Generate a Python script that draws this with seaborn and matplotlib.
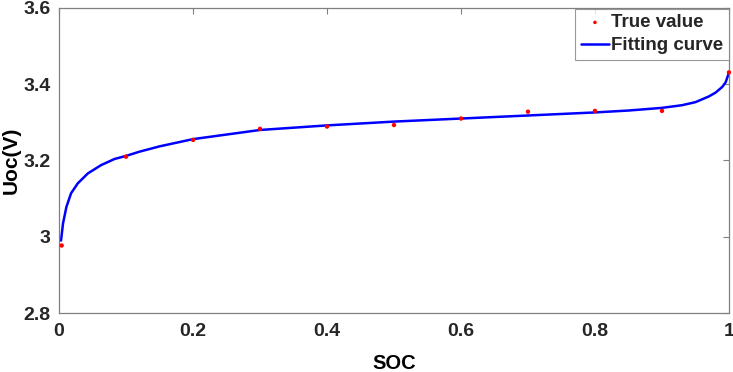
import pandas as pd
import matplotlib
matplotlib.use("Agg")
import matplotlib.pyplot as plt
import seaborn as sns

soc_true = [0.004, 0.1, 0.2, 0.3, 0.4, 0.5, 0.6, 0.7, 0.8, 0.9, 1.0]
uoc_true = [2.977, 3.210, 3.254, 3.283, 3.289, 3.293, 3.310, 3.328, 3.330, 3.330, 3.431]

# fitted curve
soc_fit = [0.003, 0.006, 0.011, 0.018, 0.028, 0.043, 0.063, 0.083, 0.10, 0.12, 0.15,
           0.2, 0.3, 0.4, 0.5, 0.6, 0.7, 0.8, 0.85, 0.9, 0.93, 0.95, 0.97, 0.98,
           0.99, 0.995, 1.0]
uoc_fit = [2.99, 3.035, 3.078, 3.114, 3.140, 3.166, 3.188, 3.204, 3.212, 3.223, 3.237,
           3.256, 3.280, 3.292, 3.302, 3.310, 3.318, 3.326, 3.331, 3.338, 3.345, 3.353,
           3.368, 3.378, 3.393, 3.405, 3.43]

x_ticks = [0, 0.2, 0.4, 0.6, 0.8, 1]
x_labels = ["0", "0.2", "0.4", "0.6", "0.8", "1"]
y_ticks = [2.8, 3.0, 3.2, 3.4, 3.6]
y_labels = ["2.8", "3", "3.2", "3.4", "3.6"]

true_df = pd.DataFrame({"SOC": soc_true, "Uoc": uoc_true})
fit_df = pd.DataFrame({"SOC": soc_fit, "Uoc": uoc_fit})

sns.set_style("white")
plt.rcParams["font.family"] = ["Liberation Sans", "DejaVu Sans"]
plt.rcParams["font.weight"] = "bold"

fig = plt.figure(figsize=(7.33, 3.72), dpi=100)
ax = fig.add_axes([0.0805, 0.1586, 0.914, 0.82])

sns.scatterplot(data=true_df, x="SOC", y="Uoc", ax=ax, color="red", s=10,
                edgecolor="none", label="True value", zorder=3, clip_on=False)
sns.lineplot(data=fit_df, x="SOC", y="Uoc", ax=ax, color="blue", linewidth=1.8,
             label="Fitting curve", zorder=2)

ax.set_xlim(0, 1)
ax.set_ylim(2.8, 3.6)
ax.set_xticks(x_ticks)
ax.set_xticklabels(x_labels)
ax.set_yticks(y_ticks)
ax.set_yticklabels(y_labels)
ax.tick_params(direction="in", length=4, width=0.8, color="#808080",
               labelsize=14, labelcolor="#262626", top=True, right=True)
ax.tick_params(axis="x", pad=7)
ax.tick_params(axis="y", pad=6)
for lab in ax.get_xticklabels() + ax.get_yticklabels():
    lab.set_fontweight("bold")
for sp in ax.spines.values():
    sp.set_color("#808080")
    sp.set_linewidth(0.9)

ax.set_xlabel("SOC", fontsize=14.5, fontweight="bold", color="black", labelpad=10)
ax.set_ylabel("Uoc(V)", fontsize=15, fontweight="bold", color="black", labelpad=2)

leg = ax.legend(loc="upper right", fontsize=13.5, frameon=True, fancybox=False,
                borderpad=0.3, handlelength=1.5, handletextpad=0.1,
                labelspacing=0.3, borderaxespad=0.0, markerscale=0.8,
                bbox_to_anchor=(0.9995, 0.998))
leg.get_frame().set_edgecolor("#808080")
leg.get_frame().set_linewidth(0.8)
for t in leg.get_texts():
    t.set_fontweight("bold")

fig.savefig("out.png", dpi=100)
